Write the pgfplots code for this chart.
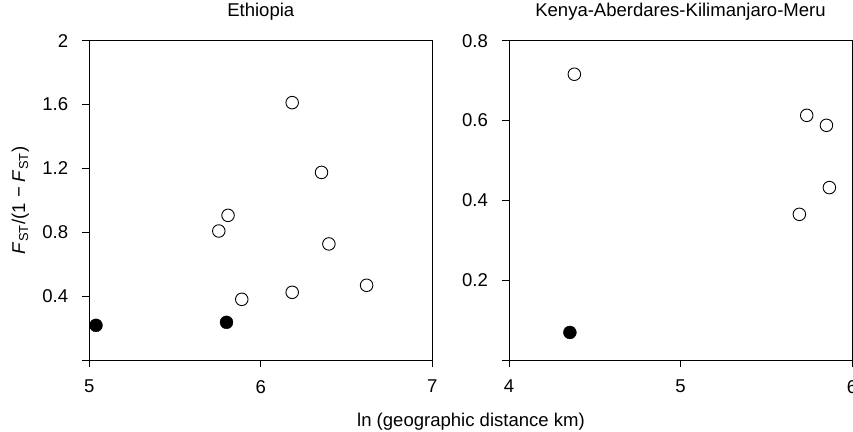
\documentclass[border=0pt]{standalone}
\usepackage{fontspec}
\setmainfont{Liberation Sans}
\usepackage{pgfplots}
\pgfplotsset{compat=1.18}
\newcommand{\bigf}{\fontsize{18.6}{22}\selectfont}
\pgfplotsset{
  myaxis/.style={
    scale only axis,
    width=343bp, height=319.3bp,
    anchor=south west,
    /pgf/number format/assume math mode=true,
    axis line style={line width=0.8pt},
    tick style={line width=0.8pt, black},
    tick align=outside,
    xtick pos=bottom, ytick pos=left,
    major tick length=7.3bp,
    tick label style={font=\bigf},
    yticklabel style={xshift=-7.5bp},
    xticklabel style={yshift=-6.5bp},
    title style={at={(0.5,1)}, anchor=base, yshift=18.7bp, font=\bigf},
    clip=false,
  },
  openm/.style={only marks, mark=*, mark size=6.3pt, mark options={fill=white, draw=black, line width=0.9pt}},
  fillm/.style={only marks, mark=*, mark size=6.5pt, mark options={fill=black, draw=black}},
}
\begin{document}
\bigf
\begin{tikzpicture}
\useasboundingbox (0,0) rectangle (853bp,432bp);
\begin{axis}[myaxis, at={(89.3bp,72bp)},
  title={Ethiopia},
  xmin=5, xmax=7, ymin=0, ymax=2,
  xtick={5,6,7}, xticklabels={5,6,7},
  ytick={0,0.4,0.8,1.2,1.6,2}, yticklabels={,0.4,0.8,1.2,1.6,2}]
\addplot[openm] coordinates {
(6.183,1.612) (6.354,1.175) (5.809,0.906) (5.755,0.808) (6.397,0.727)
(6.617,0.468) (6.183,0.424) (5.889,0.380)};
\addplot[fillm] coordinates {(5.039,0.217) (5.800,0.236)};
\end{axis}
\begin{axis}[myaxis, at={(509bp,72bp)},
  title={Kenya-Aberdares-Kilimanjaro-Meru},
  xmin=4, xmax=6, ymin=0, ymax=0.8,
  xtick={4,5,6}, xticklabels={4,5,6},
  ytick={0,0.2,0.4,0.6,0.8}, yticklabels={,0.2,0.4,0.6,0.8}]
\addplot[openm] coordinates {
(4.381,0.716) (5.736,0.613) (5.851,0.588) (5.868,0.432) (5.693,0.365)};
\addplot[fillm] coordinates {(4.355,0.069)};
\end{axis}
\node[anchor=base, font=\bigf] at (471bp,5.3bp) {ln (geographic distance km)};
\node[rotate=90, anchor=base, font=\bigf] at (25bp,231.7bp)
  {\textit{F}\textsubscript{ST}/(1 − \textit{F}\textsubscript{ST})};
\end{tikzpicture}
\end{document}
